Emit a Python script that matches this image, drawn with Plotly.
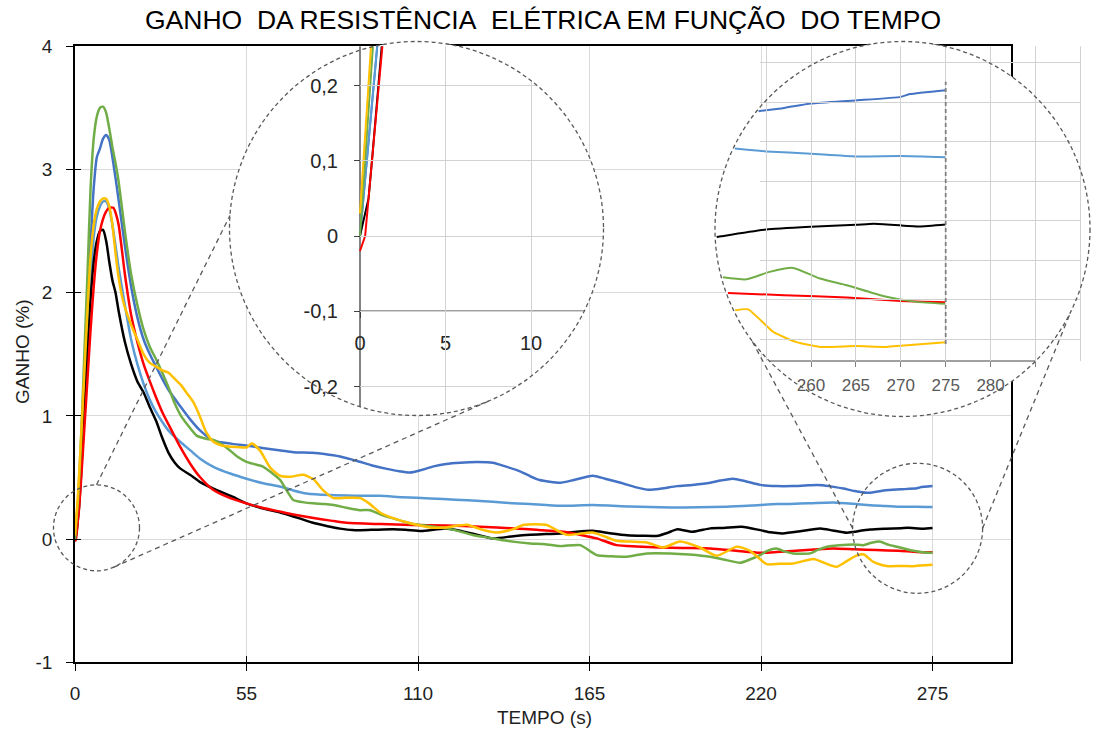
import numpy as np
import plotly.graph_objects as go

W, H = 1095, 733

# ---------------- data ----------------
tempo_azul = [0, 0.5, 1, 2, 3, 4, 5, 6, 7, 8,
              9, 10, 11, 12, 13, 14, 16, 18, 20, 22,
              24, 26, 28, 30, 33.7, 37, 40, 44.4, 50, 55,
              60, 66, 70, 76, 80, 85, 91, 95, 100, 104,
              107.5, 111, 115, 119, 123.5, 129, 134, 138, 142.7, 146,
              149, 155.6, 160, 166, 170, 175, 180, 184, 188, 193,
              198, 203.7, 207, 211, 215, 219.7, 225, 230, 234, 238,
              242, 246.4, 250, 253.9, 257, 260, 265, 270, 271, 275]
ganho_azul = [0, 0.12, 0.25, 0.7, 1.3, 1.85, 2.4, 2.85, 3.1, 3.17,
              3.25, 3.28, 3.24, 3.1, 2.93, 2.75, 2.38, 2.05, 1.8, 1.62,
              1.5, 1.4, 1.3, 1.21, 1.08, 0.97, 0.885, 0.80, 0.775, 0.76,
              0.74, 0.72, 0.705, 0.70, 0.69, 0.67, 0.63, 0.60, 0.57, 0.55,
              0.54, 0.56, 0.59, 0.61, 0.62, 0.625, 0.62, 0.59, 0.55, 0.51,
              0.48, 0.457, 0.48, 0.515, 0.49, 0.457, 0.42, 0.40, 0.41, 0.43,
              0.44, 0.457, 0.475, 0.49, 0.47, 0.44, 0.43, 0.43, 0.435, 0.44,
              0.43, 0.41, 0.39, 0.376, 0.385, 0.396, 0.404, 0.413, 0.42, 0.43]

tempo_azul_claro = [0, 0.5, 1, 2, 3, 4, 5, 6, 7, 8,
                    9, 10, 11, 12, 13, 14, 16, 18, 20, 22,
                    24, 26, 28, 30, 33.7, 37, 40, 44.4, 50, 55,
                    60, 66, 70, 74.3, 81.8, 90, 97.8, 105, 114, 122,
                    130, 138, 146, 155.6, 166, 178, 190.8, 200, 209, 217,
                    225, 235, 243.2, 251, 255, 260, 265, 270, 275]
ganho_azul_claro = [0, 0.13, 0.25, 0.65, 1.15, 1.65, 2.1, 2.45, 2.62, 2.7,
                    2.74, 2.74, 2.68, 2.55, 2.38, 2.2, 1.9, 1.62, 1.42, 1.26,
                    1.13, 1.03, 0.95, 0.88, 0.79, 0.72, 0.655, 0.587, 0.53, 0.49,
                    0.455, 0.425, 0.395, 0.37, 0.357, 0.352, 0.351, 0.34, 0.33, 0.32,
                    0.31, 0.295, 0.284, 0.27, 0.276, 0.265, 0.257, 0.258, 0.262, 0.272,
                    0.284, 0.29, 0.298, 0.283, 0.275, 0.269, 0.262, 0.263, 0.26]

tempo_preto = [0, 0.5, 0.7, 1, 1.3, 2, 3, 4, 5, 6,
               7, 8, 9, 10, 11, 12, 13, 14, 16, 18,
               20, 22, 24, 26, 28, 30, 32, 33.7, 37, 40,
               44.4, 50, 55, 60, 66, 72, 76, 81, 85, 89,
               95, 102, 106, 111, 115, 119, 123, 128, 134, 140.6,
               146, 151, 155.6, 161, 166, 171, 177, 182, 187, 190,
               193, 198, 203.7, 208, 213.8, 219.7, 223, 227, 233, 239,
               243, 247.5, 250, 255, 260, 265, 267, 272, 275]
ganho_preto = [0, 0.05, 0.1, 0.18, 0.26, 0.55, 1.05, 1.55, 1.95, 2.25,
               2.42, 2.5, 2.51, 2.42, 2.25, 2.1, 2.0, 1.85, 1.6, 1.42,
               1.28, 1.19, 1.07, 0.96, 0.82, 0.70, 0.62, 0.574, 0.52, 0.465,
               0.41, 0.35, 0.29, 0.25, 0.214, 0.168, 0.135, 0.105, 0.085, 0.073,
               0.075, 0.079, 0.075, 0.065, 0.075, 0.087, 0.07, 0.041, 0.006, 0.024,
               0.035, 0.041, 0.045, 0.06, 0.067, 0.05, 0.032, 0.027, 0.027, 0.05,
               0.079, 0.059, 0.087, 0.09, 0.1, 0.073, 0.055, 0.046, 0.065, 0.087,
               0.07, 0.051, 0.06, 0.077, 0.084, 0.089, 0.092, 0.085, 0.09]

tempo_vermelho = [0, 0.3, 0.7, 1, 1.3, 2, 3, 4, 5, 6,
                  7, 8, 9, 10, 11, 12.3, 13, 14, 16, 18,
                  20, 22, 24, 26, 28, 30, 33.7, 37, 40, 44.4,
                  50, 55, 60, 66, 70, 76, 82, 87, 98, 108,
                  119, 130, 140.6, 148, 156.6, 163, 167.3, 173.7, 180, 187.6,
                  195, 203.7, 212, 219.7, 225, 230, 237, 243, 250, 257,
                  264, 270, 275]
ganho_vermelho = [-0.02, 0.0, 0.1, 0.17, 0.25, 0.5, 0.9, 1.3, 1.7, 2.05,
                  2.32, 2.5, 2.6, 2.66, 2.69, 2.69, 2.65, 2.55, 2.15, 1.82,
                  1.6, 1.42, 1.28, 1.15, 1.03, 0.93, 0.75, 0.61, 0.506, 0.398,
                  0.33, 0.29, 0.255, 0.222, 0.2, 0.173, 0.15, 0.132, 0.122, 0.115,
                  0.111, 0.1, 0.087, 0.075, 0.059, 0.03, 0.006, -0.049, -0.06, -0.068,
                  -0.072, -0.076, -0.095, -0.111, -0.105, -0.097, -0.085, -0.076, -0.083, -0.089,
                  -0.095, -0.104, -0.107]

tempo_verde = [0, 0.5, 1, 2, 3, 4, 5, 6, 7, 8,
               9, 10, 11, 12, 13, 14, 16, 18, 20, 22,
               24, 26, 28, 30, 32, 34, 36, 39, 42, 44.4,
               47, 49.7, 52, 55, 58, 60.4, 63, 65.8, 68, 70,
               73, 76.4, 80, 83, 87, 91.4, 94.6, 98, 102, 105,
               108.5, 114, 119.2, 123, 127.8, 133, 138.5, 146, 150, 155.6,
               162, 167.3, 172, 177, 183.4, 190.8, 197, 203.7, 208, 213.3,
               216, 219.7, 222, 225, 227.5, 230.3, 235.7, 238, 241.1, 245,
               249.7, 252.8, 255.4, 258, 261, 264, 268, 271.7, 275]
ganho_verde = [0, 0.17, 0.33, 0.85, 1.5, 2.15, 2.85, 3.25, 3.43, 3.5,
               3.51, 3.46, 3.33, 3.18, 3.05, 2.9, 2.5, 2.15, 1.9, 1.7,
               1.56, 1.46, 1.35, 1.23, 1.1, 1.0, 0.93, 0.84, 0.815, 0.804,
               0.77, 0.72, 0.67, 0.627, 0.605, 0.587, 0.54, 0.48, 0.39, 0.318,
               0.30, 0.29, 0.285, 0.276, 0.255, 0.235, 0.235, 0.2, 0.168, 0.145,
               0.122, 0.105, 0.087, 0.065, 0.032, 0.01, -0.014, -0.035, -0.04, -0.057,
               -0.049, -0.13, -0.14, -0.143, -0.116, -0.116, -0.125, -0.143, -0.165, -0.192,
               -0.17, -0.13, -0.095, -0.076, -0.1, -0.116, -0.116, -0.09, -0.062, -0.05,
               -0.043, -0.049, -0.03, -0.02, -0.047, -0.064, -0.091, -0.106, -0.111]

tempo_amarelo = [0, 0.5, 1, 2, 3, 4, 5, 6, 7, 8,
                 9, 10, 11, 12, 13, 14, 15, 16, 18, 20,
                 22, 24, 26, 28, 30, 32, 34, 36, 38, 40,
                 42, 44.4, 47, 50, 53, 55, 56.7, 59.4, 62.6, 65.8,
                 69, 73.2, 76.4, 79.7, 82.9, 87, 91.4, 94.6, 97.8, 102,
                 108.5, 114, 119, 125.6, 130, 135, 140.6, 144, 151, 157.7,
                 166, 173.7, 178, 183.4, 188.7, 194, 200.4, 205.8, 212.2, 216.5,
                 221.8, 226, 230.3, 236.8, 240, 244.3, 248, 251.2, 253, 255.8,
                 258.4, 261, 265, 268.4, 270, 275]
ganho_amarelo = [0.03, 0.2, 0.38, 0.85, 1.35, 1.85, 2.3, 2.55, 2.68, 2.74,
                 2.765, 2.76, 2.7, 2.55, 2.32, 2.12, 1.98, 1.88, 1.74, 1.62,
                 1.5, 1.43, 1.4, 1.37, 1.35, 1.3, 1.25, 1.18, 1.11, 1.0,
                 0.87, 0.79, 0.76, 0.75, 0.745, 0.744, 0.776, 0.716, 0.58, 0.514,
                 0.506, 0.522, 0.487, 0.393, 0.333, 0.335, 0.333, 0.284, 0.216, 0.17,
                 0.122, 0.095, 0.095, 0.116, 0.081, 0.054, 0.081, 0.116, 0.116, 0.035,
                 0.054, -0.014, -0.02, -0.027, -0.068, -0.019, -0.068, -0.135, -0.062, -0.095,
                 -0.203, -0.2, -0.198, -0.162, -0.19, -0.225, -0.17, -0.128, -0.125, -0.182,
                 -0.208, -0.22, -0.218, -0.22, -0.217, -0.208]

cores = {"azul": "#4472C4", "azul_claro": "#5B9BD5", "preto": "#000000",
         "vermelho": "#FF0000", "verde": "#70AD47", "amarelo": "#FFC000"}

series = [
    ("azul", tempo_azul, ganho_azul),
    ("azul_claro", tempo_azul_claro, ganho_azul_claro),
    ("preto", tempo_preto, ganho_preto),
    ("vermelho", tempo_vermelho, ganho_vermelho),
    ("verde", tempo_verde, ganho_verde),
    ("amarelo", tempo_amarelo, ganho_amarelo),
]

eixo_x_ticks = [0, 55, 110, 165, 220, 275]
eixo_y_ticks = [-1, 0, 1, 2, 3, 4]
eixo_y_texto = ["-1", "0", "1", "2", "3", "4"]
zoom1_x_ticks = [0, 5, 10]
zoom1_y_ticks = [-0.2, -0.1, 0, 0.1, 0.2]
zoom1_y_texto = ["-0,2", "-0,1", "0", "0,1", "0,2"]
zoom2_x_ticks = [260, 265, 270, 275, 280, 285]
zoom2_x_texto = ["260", "265", "270", "275", "280", ""]
zoom2_grade_x = [255, 260, 265, 270, 275, 280, 285, 290]
zoom2_grade_y = [-0.2, -0.1, 0, 0.1, 0.2, 0.3, 0.4, 0.5]

# ---------------- layout geometry (pixels) ----------------
def fx(px):
    return px / W


def fy(py):
    return 1 - py / H


def snap(p):
    # centre a 1px line on a device pixel so it renders crisp
    return float(np.floor(p)) + 0.5


MX0, MX1, MY0, MY1 = 75.0, 1010.5, 46.3, 662.3
GRID = "#D9D9D9"
GRID_INSET = "#D2D2D2"

# left magnifier: circle + mapping (t=0 at px 360, v=0 at py 236)
L_CX, L_CY, L_R = 416.5, 228.5, 187.0
L_X0PX, L_XS = 360.0, 17.1
L_Y0PX, L_YS = 236.0, 752.5


def lt(px):
    return (np.asarray(px, float) - L_X0PX) / L_XS


def lv(py):
    return (L_Y0PX - np.asarray(py, float)) / L_YS


def ltx(t):
    return L_X0PX + L_XS * t


def lvy(v):
    return L_Y0PX - L_YS * v


# right magnifier: circle + mapping (t=275 at px 945.7, v=0 at py 260)
R_CX, R_CY, R_R = 902.5, 229.0, 187.5
R_T0, R_X0PX, R_XS = 275.0, 945.7, 8.98
R_Y0PX, R_YS = 260.0, 395.0
R_AXIS_PY = 361.0
R_RECT = (760.0, 1081.0, MY0, R_AXIS_PY)


def rt(px):
    return R_T0 + (np.asarray(px, float) - R_X0PX) / R_XS


def rv(py):
    return (R_Y0PX - np.asarray(py, float)) / R_YS


def rtx(t):
    return R_X0PX + R_XS * (np.asarray(t, float) - R_T0)


def rvy(v):
    return R_Y0PX - R_YS * np.asarray(v, float)


S1 = (96.5, 527.8, 43.0)
S2 = (917.6, 528.3, 65.0)

theta = np.linspace(0, 2 * np.pi, 241)
skip = dict(hoverinfo="skip", showlegend=False)

fig = go.Figure()

# ---------------- main chart ----------------
for nome, t, v in series:
    fig.add_trace(go.Scatter(x=t, y=v, mode="lines", xaxis="x", yaxis="y",
                             line=dict(color=cores[nome], width=2.5, shape="spline", smoothing=0.6),
                             **skip))
# invisible markers that carry the inner halves of the crossing ticks
fig.add_trace(go.Scatter(x=[150], y=[1.5], mode="markers", xaxis="x4", yaxis="y",
                         marker=dict(opacity=0), **skip))
fig.add_trace(go.Scatter(x=[150], y=[1.5], mode="markers", xaxis="x", yaxis="y4",
                         marker=dict(opacity=0), **skip))

shapes = []

# ---------------- left magnifier (subplot x2/y2) ----------------
ax0, ax1 = L_CX - L_R - 3, L_CX + L_R + 3
ay0, ay1 = L_CY - L_R - 3, L_CY + L_R + 3
fig.add_trace(go.Scatter(x=lt(L_CX + L_R * np.cos(theta)), y=lv(L_CY + L_R * np.sin(theta)),
                         mode="lines", fill="toself", fillcolor="white", line=dict(width=0),
                         xaxis="x2", yaxis="y2", **skip))
# grid clipped to the disc (right of the vertical axis)
for t in zoom1_x_ticks[1:]:
    px = snap(ltx(t))
    dy = np.sqrt(L_R ** 2 - (px - L_CX) ** 2)
    shapes.append(dict(type="line", xref="paper", yref="paper", layer="above",
                       x0=fx(px), x1=fx(px), y0=fy(max(L_CY - dy, MY0)), y1=fy(L_CY + dy),
                       line=dict(color=GRID_INSET, width=1)))
for v in zoom1_y_ticks:
    py = snap(lvy(v))
    dx = np.sqrt(L_R ** 2 - (py - L_CY) ** 2)
    shapes.append(dict(type="line", xref="paper", yref="paper", layer="above",
                       x0=fx(max(L_CX - dx, L_X0PX)), x1=fx(L_CX + dx), y0=fy(py), y1=fy(py),
                       line=dict(color=GRID_INSET, width=1)))
# axis lines (chords of the disc)
b_x1 = L_CX + np.sqrt(L_R ** 2 - (lvy(-0.1) - L_CY) ** 2)
b_y1 = L_CY + np.sqrt(L_R ** 2 - (L_X0PX - L_CX) ** 2)
fig.add_trace(go.Scatter(x=[0, 0, None, 0, float(lt(b_x1))],
                         y=[float(lv(MY0)), float(lv(b_y1)), None, -0.1, -0.1],
                         mode="lines", line=dict(color="#404040", width=1.3),
                         xaxis="x2", yaxis="y2", **skip))


def clip_top(t, v, vmax):
    ot, ov = [], []
    for i in range(len(t)):
        if v[i] <= vmax:
            ot.append(t[i])
            ov.append(v[i])
        else:
            if i > 0:
                s = (vmax - v[i - 1]) / (v[i] - v[i - 1])
                ot.append(t[i - 1] + s * (t[i] - t[i - 1]))
                ov.append(vmax)
            break
    return ot, ov


for nome, t, v in series:
    ct, cv = clip_top(t, v, float(lv(MY0)))
    fig.add_trace(go.Scatter(x=ct, y=cv, mode="lines", xaxis="x2", yaxis="y2",
                             line=dict(color=cores[nome], width=2), **skip))

# ---------------- right magnifier (subplot x3/y3) ----------------
cx0, cx1 = R_CX - R_R - 3, min(R_CX + R_R + 3, W - 0.5)
cy0, cy1 = R_CY - R_R - 3, R_CY + R_R + 3
fig.add_trace(go.Scatter(x=rt(R_CX + R_R * np.cos(theta)), y=rv(R_CY + R_R * np.sin(theta)),
                         mode="lines", fill="toself", fillcolor="white", line=dict(width=0),
                         xaxis="x3", yaxis="y3", **skip))
for t in zoom2_grade_x:
    px = snap(float(rtx(t)))
    if R_RECT[0] <= px <= R_RECT[1]:
        shapes.append(dict(type="line", xref="paper", yref="paper", layer="above",
                           x0=fx(px), x1=fx(px), y0=fy(R_RECT[2]), y1=fy(R_RECT[3]),
                           line=dict(color=GRID_INSET, width=1)))
for v in zoom2_grade_y:
    py = snap(float(rvy(v)))
    if R_RECT[2] <= py <= R_RECT[3]:
        shapes.append(dict(type="line", xref="paper", yref="paper", layer="above",
                           x0=fx(R_RECT[0]), x1=fx(R_RECT[1]), y0=fy(py), y1=fy(py),
                           line=dict(color=GRID_INSET, width=1)))
dxc = np.sqrt(R_R ** 2 - (R_AXIS_PY - R_CY) ** 2)
fig.add_trace(go.Scatter(x=[float(rt(R_CX - dxc)), float(rt(R_CX + dxc))],
                         y=[float(rv(R_AXIS_PY))] * 2, mode="lines",
                         line=dict(color="#808080", width=1.5), xaxis="x3", yaxis="y3", **skip))


def clip_circle(t, v):
    t = np.asarray(t, float)
    v = np.asarray(v, float)
    px, py = rtx(t), rvy(v)
    rr = R_R - 1.5
    inside = (px - R_CX) ** 2 + (py - R_CY) ** 2 < rr ** 2
    i = int(np.where(inside)[0][0])
    ot, ov = list(t[i:]), list(v[i:])
    if i > 0:
        p0 = np.array([px[i - 1], py[i - 1]])
        p1 = np.array([px[i], py[i]])
        d = p1 - p0
        f = p0 - np.array([R_CX, R_CY])
        a, b, c = d @ d, 2 * (f @ d), f @ f - rr ** 2
        s = (-b - np.sqrt(b * b - 4 * a * c)) / (2 * a)
        ot = [t[i - 1] + s * (t[i] - t[i - 1])] + ot
        ov = [v[i - 1] + s * (v[i] - v[i - 1])] + ov
    return ot, ov


for nome, t, v in series:
    ct, cv = clip_circle(t, v)
    fig.add_trace(go.Scatter(x=ct, y=cv, mode="lines", xaxis="x3", yaxis="y3",
                             line=dict(color=cores[nome], width=2, shape="spline", smoothing=0.5),
                             **skip))
# dashed vertical marker at t = 275 inside the right magnifier
shapes.append(dict(type="line", xref="x3", yref="y3", layer="above",
                   x0=275, x1=275, y0=float(rv(344)), y1=float(rv(81.7)),
                   line=dict(color="#808080", width=1.8, dash="4px,3px")))

# ---------------- axes ----------------
tick_font = dict(size=19, color="#1F1F1F")
fig.update_layout(
    xaxis=dict(domain=[fx(MX0), fx(MX1)], range=[0, 300], anchor="y", automargin=False,
               tickvals=eixo_x_ticks, showgrid=True, gridcolor=GRID, gridwidth=1,
               zeroline=False, showline=True, linecolor="#000000", linewidth=1.5, mirror=True,
               ticks="outside", ticklen=7, tickcolor="#000000", tickwidth=1.3,
               tickfont=tick_font, ticklabelstandoff=6),
    yaxis=dict(domain=[fy(MY1), fy(MY0)], range=[-1, 4], anchor="x", automargin=False,
               tickvals=eixo_y_ticks, ticktext=eixo_y_texto, showgrid=True, gridcolor=GRID,
               gridwidth=1, zeroline=False, showline=True, linecolor="#000000", linewidth=1.5,
               mirror=True, ticks="outside", ticklen=7, tickcolor="#000000", tickwidth=1.3,
               tickfont=tick_font, ticklabelstandoff=10),
    xaxis4=dict(overlaying="x", anchor="y", range=[0, 300], tickvals=eixo_x_ticks,
                showticklabels=False, showgrid=False, zeroline=False, showline=False,
                ticks="inside", ticklen=6, tickcolor="#000000", tickwidth=1.3, automargin=False),
    yaxis4=dict(overlaying="y", anchor="x", range=[-1, 4], tickvals=eixo_y_ticks,
                showticklabels=False, showgrid=False, zeroline=False, showline=False,
                ticks="inside", ticklen=6, tickcolor="#000000", tickwidth=1.3, automargin=False),
    xaxis2=dict(domain=[fx(ax0), fx(ax1)], range=[float(lt(ax0)), float(lt(ax1))],
                anchor="free", position=fy(lvy(-0.1)), tickvals=zoom1_x_ticks,
                showgrid=False, zeroline=False, showline=False, automargin=False,
                ticks="outside", ticklen=6, tickcolor="#404040", tickwidth=1.2,
                tickfont=dict(size=20, color="#262626"), ticklabelstandoff=8),
    yaxis2=dict(domain=[fy(ay1), fy(ay0)], range=[float(lv(ay1)), float(lv(ay0))],
                anchor="free", position=fx(L_X0PX), tickvals=zoom1_y_ticks,
                ticktext=zoom1_y_texto, showgrid=False, zeroline=False, showline=False,
                automargin=False, ticks="outside", ticklen=6, tickcolor="#404040", tickwidth=1.2,
                tickfont=dict(size=20, color="#262626"), ticklabelstandoff=12),
    xaxis3=dict(domain=[fx(cx0), fx(cx1)], range=[float(rt(cx0)), float(rt(cx1))],
                anchor="free", position=fy(R_AXIS_PY), tickvals=zoom2_x_ticks,
                ticktext=zoom2_x_texto, showgrid=False, zeroline=False, showline=False,
                automargin=False, ticks="outside", ticklen=5, tickcolor="#808080", tickwidth=1.3,
                tickfont=dict(size=17, color="#595959"), ticklabelstandoff=4),
    yaxis3=dict(domain=[fy(cy1), fy(cy0)], range=[float(rv(cy1)), float(rv(cy0))],
                anchor="x3", visible=False, automargin=False),
)

# ---------------- dashed outlines and connectors ----------------
for (cx, cy, r) in [(L_CX, L_CY, L_R), (R_CX, R_CY, R_R), S1, S2]:
    shapes.append(dict(type="circle", xref="paper", yref="paper", layer="above",
                       x0=fx(cx - r), x1=fx(cx + r), y0=fy(cy + r), y1=fy(cy - r),
                       line=dict(color="#595959", width=1.3, dash="4px,3px")))


def on_circle(c, ang):
    a = np.radians(ang)
    return c[0] + c[2] * np.cos(a), c[1] + c[2] * np.sin(a)


def ext_tangent(c1, c2, sign):
    p1, p2 = np.array(c1[:2]), np.array(c2[:2])
    d = p2 - p1
    D = np.hypot(*d)
    ang = np.arctan2(d[1], d[0]) + sign * np.arccos((c2[2] - c1[2]) / D)
    n = np.array([np.cos(ang), np.sin(ang)])
    return p1 - c1[2] * n, p2 - c2[2] * n


BL = (L_CX, L_CY, L_R)
BR = (R_CX, R_CY, R_R)
conectores = [
    (on_circle(S1, -90), on_circle(BL, 184)),
    ext_tangent(S1, BL, -1),
    (on_circle(S2, 180), on_circle(BR, 143.5)),
    (on_circle(S2, 0), on_circle(BR, 26)),
]
for pa, pb in conectores:
    shapes.append(dict(type="line", xref="paper", yref="paper", layer="above",
                       x0=fx(pa[0]), y0=fy(pa[1]), x1=fx(pb[0]), y1=fy(pb[1]),
                       line=dict(color="#595959", width=1.3, dash="5px,4px")))

# ---------------- texts ----------------
annotations = [
    dict(text="GANHO\u00a0\u00a0DA RESISTÊNCIA\u00a0\u00a0ELÉTRICA EM FUNÇÃO\u00a0\u00a0DO TEMPO",
         xref="paper", yref="paper", x=fx(542.5), y=fy(20), showarrow=False,
         xanchor="center", yanchor="middle", font=dict(size=26.5, color="#000000")),
    dict(text="TEMPO (s)", xref="paper", yref="paper", x=fx(544), y=fy(717), showarrow=False,
         xanchor="center", yanchor="middle", font=dict(size=19, color="#1F1F1F")),
    dict(text="GANHO (%)", xref="paper", yref="paper", x=fx(22), y=fy(352), showarrow=False,
         textangle=-90, xanchor="center", yanchor="middle", font=dict(size=19, color="#1F1F1F")),
]

fig.update_layout(
    template="none",
    width=W, height=H, autosize=False,
    margin=dict(l=0, r=0, t=0, b=0, pad=0),
    paper_bgcolor="white", plot_bgcolor="rgba(0,0,0,0)",
    separators=",.", showlegend=False,
    font=dict(family="Liberation Sans, Arial, sans-serif", color="#1F1F1F"),
    shapes=shapes, annotations=annotations,
)

fig.write_html("out.html", config={"displayModeBar": False},
               post_script="document.body.style.margin='0px';document.body.style.overflow='hidden';")
